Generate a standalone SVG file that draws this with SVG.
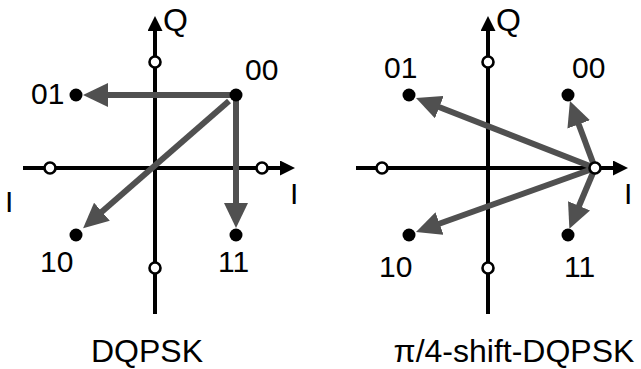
<svg xmlns="http://www.w3.org/2000/svg" width="641" height="369" viewBox="0 0 641 369">
<style>
text{font-family:"Liberation Sans",Arial,sans-serif;fill:#000}
.lbl{font-size:30px}
.q{font-size:32px}
.cap{font-size:32px}
.axis{stroke:#000;stroke-width:4;fill:none}
.arr{stroke:#505050;stroke-width:6;fill:none}
.open{fill:#fff;stroke:#000;stroke-width:2.6}
.dot{fill:#000}
</style>
<defs>
<marker id="ax" markerUnits="userSpaceOnUse" markerWidth="15" markerHeight="15" refX="5" refY="7.5" orient="auto" viewBox="0 0 15 15"><path d="M0,0 L15,7.5 L0,15 z" fill="#000"/></marker>
<marker id="ah" markerUnits="userSpaceOnUse" markerWidth="25" markerHeight="24" refX="10" refY="12" orient="auto" viewBox="0 0 25 24"><path d="M0,0 L25,12 L0,24 z" fill="#505050"/></marker>
</defs>
<rect width="641" height="369" fill="#fff"/>
<g id="axes-left">
<line class="axis" x1="155" y1="314" x2="155" y2="26" marker-end="url(#ax)"/>
<line class="axis" x1="23" y1="168" x2="285" y2="168" marker-end="url(#ax)"/>
</g>
<g id="axes-right">
<line class="axis" x1="488" y1="314" x2="488" y2="26" marker-end="url(#ax)"/>
<line class="axis" x1="356" y1="168" x2="618" y2="168" marker-end="url(#ax)"/>
</g>
<g id="connectors">
<line class="arr" x1="236" y1="95" x2="98" y2="95" marker-end="url(#ah)"/>
<line class="arr" x1="236" y1="95" x2="236" y2="213" marker-end="url(#ah)"/>
<line class="arr" x1="229" y1="101" x2="94.4" y2="218.3" marker-end="url(#ah)"/>
<line class="arr" x1="595" y1="168" x2="430" y2="103.5" marker-end="url(#ah)"/>
<line class="arr" x1="595" y1="168" x2="575.2" y2="115" marker-end="url(#ah)"/>
<line class="arr" x1="595" y1="168" x2="575.2" y2="215" marker-end="url(#ah)"/>
<line class="arr" x1="595" y1="168" x2="430.1" y2="227" marker-end="url(#ah)"/>
</g>
<g id="left-diagram">
<circle class="open" cx="155" cy="62" r="5.5"/>
<circle class="open" cx="155" cy="268" r="5.5"/>
<circle class="open" cx="50" cy="168" r="5.5"/>
<circle class="open" cx="262" cy="168" r="5.5"/>
<g id="L00"><circle class="dot" cx="236" cy="95" r="6.5"/><text class="lbl" x="245" y="80">00</text></g>
<g id="L01"><circle class="dot" cx="76" cy="95" r="6.5"/><text class="lbl" x="31" y="104">01</text></g>
<g id="L10"><circle class="dot" cx="76" cy="235" r="6.5"/><text class="lbl" x="40" y="272">10</text></g>
<g id="L11"><circle class="dot" cx="236" cy="235" r="6.5"/><text class="lbl" x="218" y="272">11</text></g>
<text class="q" x="163" y="31">Q</text>
<text class="lbl" x="5" y="212">I</text>
<text class="lbl" x="290" y="204">I</text>
<text class="cap" x="147" y="362" text-anchor="middle">DQPSK</text>
</g>
<g id="right-diagram">
<circle class="open" cx="488" cy="62" r="5.5"/>
<circle class="open" cx="488" cy="268" r="5.5"/>
<circle class="open" cx="382" cy="168" r="5.5"/>
<circle class="open" cx="595" cy="168" r="5.5"/>
<g id="R00"><circle class="dot" cx="568" cy="95" r="6.5"/><text class="lbl" x="572" y="78">00</text></g>
<g id="R01"><circle class="dot" cx="409" cy="95" r="6.5"/><text class="lbl" x="384" y="78">01</text></g>
<g id="R10"><circle class="dot" cx="409" cy="235" r="6.5"/><text class="lbl" x="379" y="277">10</text></g>
<g id="R11"><circle class="dot" cx="568" cy="235" r="6.5"/><text class="lbl" x="564" y="277">11</text></g>
<text class="q" x="496" y="31">Q</text>
<text class="lbl" x="624" y="204">I</text>
<text class="cap" x="514" y="362" text-anchor="middle">π/4-shift-DQPSK</text>
</g>
</svg>
